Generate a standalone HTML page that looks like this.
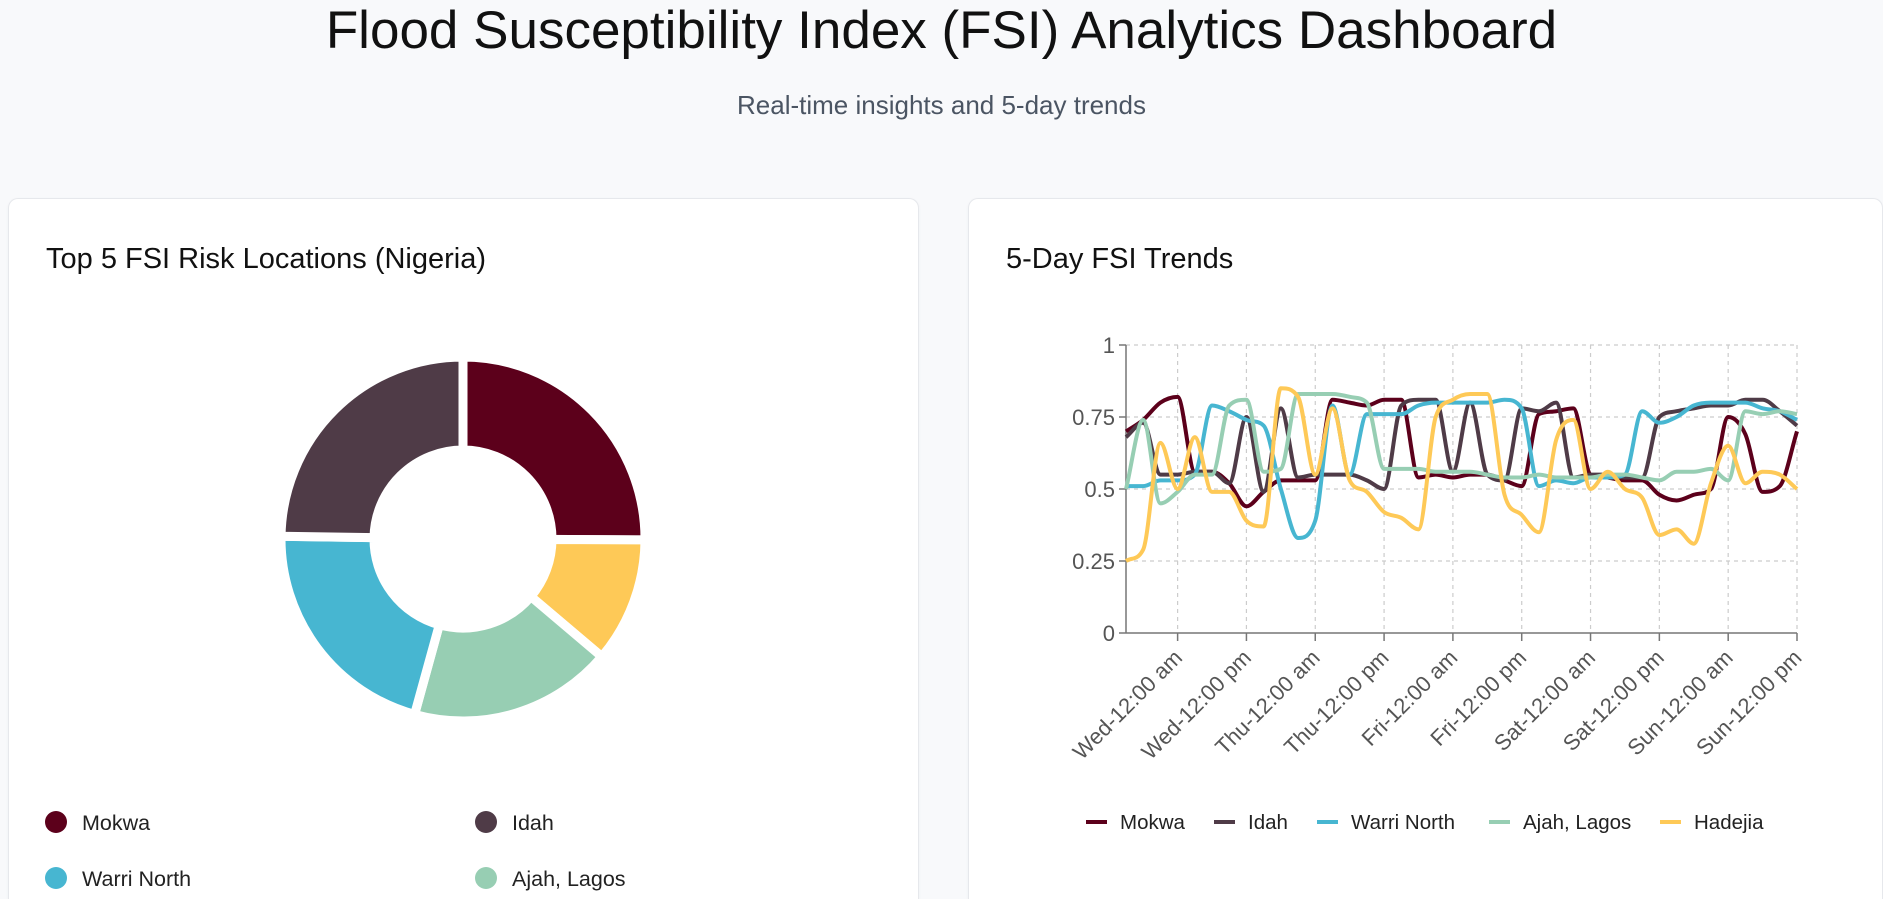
<!DOCTYPE html>
<html><head><meta charset="utf-8"><style>
html,body{margin:0;padding:0;width:1883px;height:898px;overflow:hidden;background:#f8f9fb;font-family:"Liberation Sans",sans-serif;}
.card{position:absolute;background:#fff;border:1px solid #e6e8ec;border-bottom:none;border-radius:10px 10px 0 0;box-shadow:0 1px 3px rgba(0,0,0,0.04);}
</style></head><body>
<div style="position:absolute;left:0;width:1883px;top:0;text-align:center;font-size:53px;line-height:62px;color:#111;">Flood Susceptibility Index (FSI) Analytics Dashboard</div>
<div style="position:absolute;left:0;width:1883px;top:90px;text-align:center;font-size:26px;color:#4b5563;">Real-time insights and 5-day trends</div>
<div class="card" style="left:8px;top:198px;width:909px;height:700px;"></div>
<div class="card" style="left:968px;top:198px;width:913px;height:700px;"></div>
<svg id="svg" width="1883" height="898" style="position:absolute;left:0;top:0;font-family:'Liberation Sans',sans-serif;">
<text x="46" y="268" font-size="29" fill="#111">Top 5 FSI Risk Locations (Nigeria)</text>
<text x="1006" y="268" font-size="29" fill="#111">5-Day FSI Trends</text>
<g id="donut"></g><g id="grid"></g><g id="axes"></g><g id="lines"></g><g id="legend"></g><g id="plegend"></g>
</svg>
<script>
const pieNames=["Mokwa","Hadejia","Ajah, Lagos","Warri North","Idah"];
const pieValues=[0.79,0.35,0.57,0.66,0.78];
const pieColors=["#5c001b","#fec957","#97ceb3","#47b6d1","#4f3b47"];
const legendNames=["Mokwa","Idah","Warri North","Ajah, Lagos"];
const legendColors=["#5c001b","#4f3b47","#47b6d1","#97ceb3"];
const seriesNames=["Mokwa","Idah","Warri North","Ajah, Lagos","Hadejia"];
const seriesColors=["#5c001b","#4f3b47","#47b6d1","#97ceb3","#fec957"];
const hours=[];for(let h=-9;h<=108;h+=3)hours.push(h);
const mokwa=[0.70,0.74,0.80,0.82,0.56,0.56,0.52,0.44,0.49,0.53,0.53,0.53,0.81,0.80,0.79,0.81,0.81,0.54,0.55,0.54,0.55,0.55,0.53,0.51,0.76,0.77,0.78,0.55,0.54,0.53,0.53,0.48,0.46,0.48,0.50,0.75,0.69,0.49,0.51,0.70];
const idah=[0.68,0.73,0.55,0.55,0.56,0.56,0.52,0.75,0.49,0.78,0.54,0.55,0.55,0.55,0.53,0.50,0.79,0.81,0.81,0.56,0.80,0.55,0.53,0.78,0.77,0.80,0.54,0.55,0.55,0.54,0.54,0.75,0.77,0.78,0.79,0.79,0.81,0.81,0.77,0.72];
const warri=[0.51,0.51,0.53,0.53,0.55,0.79,0.77,0.74,0.72,0.50,0.33,0.39,0.79,0.55,0.76,0.76,0.76,0.79,0.80,0.80,0.80,0.80,0.81,0.78,0.51,0.53,0.52,0.54,0.54,0.55,0.77,0.73,0.75,0.79,0.80,0.80,0.80,0.78,0.77,0.74];
const ajah=[0.50,0.74,0.45,0.49,0.55,0.55,0.79,0.81,0.56,0.57,0.83,0.83,0.83,0.82,0.80,0.57,0.57,0.57,0.56,0.56,0.56,0.55,0.54,0.54,0.55,0.54,0.54,0.54,0.55,0.55,0.54,0.53,0.56,0.56,0.57,0.53,0.77,0.76,0.77,0.76];
const hadejia=[0.25,0.29,0.66,0.50,0.68,0.49,0.49,0.39,0.37,0.85,0.82,0.55,0.78,0.53,0.49,0.42,0.40,0.36,0.75,0.81,0.83,0.83,0.48,0.41,0.35,0.67,0.74,0.50,0.56,0.50,0.47,0.34,0.36,0.31,0.52,0.65,0.52,0.56,0.55,0.50];
const yTicks=[0,0.25,0.5,0.75,1];
const yTickLabels=["0","0.25","0.5","0.75","1"];
const xTickHours=[0,12,24,36,48,60,72,84,96,108];
const xTickLabels=["Wed-12:00 am","Wed-12:00 pm","Thu-12:00 am","Thu-12:00 pm","Fri-12:00 am","Fri-12:00 pm","Sat-12:00 am","Sat-12:00 pm","Sun-12:00 am","Sun-12:00 pm"];
const NS="http://www.w3.org/2000/svg";
function mk(tag,attrs,parent){const e=document.createElementNS(NS,tag);for(const k in attrs)e.setAttribute(k,attrs[k]);parent.appendChild(e);return e;}
const cx=463,cy=539,R=182,r0=89;
const dg=document.getElementById('donut');
const total=pieValues.reduce((a,b)=>a+b,0);
let a0=0;
function pt(rad,ang){return [cx+rad*Math.sin(ang),cy-rad*Math.cos(ang)];}
pieValues.forEach((v,i)=>{
  const a1=a0+v/total*Math.PI*2;
  const p1=pt(R,a0),p2=pt(R,a1),p3=pt(r0,a1),p4=pt(r0,a0);
  const lg=(a1-a0)>Math.PI?1:0;
  const d=`M${p1}A${R},${R} 0 ${lg} 1 ${p2}L${p3}A${r0},${r0} 0 ${lg} 0 ${p4}Z`;
  const p=mk('path',{d:d,fill:pieColors[i],stroke:'#fff','stroke-width':9,'stroke-linejoin':'miter'},dg);
  
  
  a0=a1;
});
const lg=document.getElementById('legend');
legendNames.forEach((n,i)=>{
  const x=56+(i%2)*430,y=822+Math.floor(i/2)*56;
  const g=mk('g',{},lg);
  
  
  mk('circle',{cx:x,cy:y,r:11,fill:legendColors[i]},g);
  const t=mk('text',{x:x+26,y:y+8,'font-size':21.5,fill:'#222'},g);t.textContent=n;
});
const X0=1126,X1=1797,Y0=633,Y1=345,H0=-9,H1=108;
const xs=h=>X0+(h-H0)/(H1-H0)*(X1-X0);
const ys=v=>Y0-v*(Y0-Y1);
const gg=document.getElementById('grid'),ax=document.getElementById('axes');
yTicks.forEach((v,i)=>{
  if(v>0){const l=mk('line',{x1:X0,x2:X1,y1:ys(v),y2:ys(v),stroke:'#ccc','stroke-dasharray':'4,4','stroke-width':1.2},gg);
  }
  mk('line',{x1:X0-7,x2:X0,y1:ys(v),y2:ys(v),stroke:'#777','stroke-width':1.5},ax);
  const t=mk('text',{x:X0-11,y:ys(v)+8,'font-size':22,fill:'#555','text-anchor':'end'},ax);t.textContent=yTickLabels[i];
  
});
xTickHours.forEach((h,i)=>{
  const x=xs(h);
  const l=mk('line',{x1:x,x2:x,y1:Y1,y2:Y0,stroke:'#ccc','stroke-dasharray':'4,4','stroke-width':1.2},gg);
  
  mk('line',{x1:x,x2:x,y1:Y0,y2:Y0+8,stroke:'#777','stroke-width':1.5},ax);
  const t=mk('text',{transform:`translate(${x+6},${Y0+26}) rotate(-45)`,'font-size':22,fill:'#555','text-anchor':'end'},ax);t.textContent=xTickLabels[i];
  
});
const yAxis=mk('line',{x1:X0,x2:X0,y1:Y1,y2:Y0,stroke:'#777','stroke-width':1.5},ax);

const xAxis=mk('line',{x1:X0,x2:X1,y1:Y0,y2:Y0,stroke:'#777','stroke-width':1.5},ax);

function monotone(px,py){
  const n=px.length,dx=[],m=[],t=[];
  for(let i=0;i<n-1;i++){dx[i]=px[i+1]-px[i];m[i]=(py[i+1]-py[i])/dx[i];}
  t[0]=m[0];t[n-1]=m[n-2];
  for(let i=1;i<n-1;i++){if(m[i-1]*m[i]<=0)t[i]=0;else{const s=(m[i-1]*dx[i]+m[i]*dx[i-1])/(dx[i]+dx[i-1]);t[i]=Math.sign(m[i])*Math.min(Math.abs(s),3*Math.min(Math.abs(m[i-1]),Math.abs(m[i])));}}
  let d=`M${px[0]},${py[0]}`;
  for(let i=0;i<n-1;i++){const h=dx[i]/3;d+=`C${px[i]+h},${py[i]+t[i]*h} ${px[i+1]-h},${py[i+1]-t[i+1]*h} ${px[i+1]},${py[i+1]}`;}
  return d;
}
const lgEl=document.getElementById('lines');
[mokwa,idah,warri,ajah,hadejia].forEach((s,k)=>{
  const p=mk('path',{d:monotone(hours.map(xs),s.map(ys)),fill:'none',stroke:seriesColors[k],'stroke-width':4,'stroke-linejoin':'round'},lgEl);
  
  
});
const pl=document.getElementById('plegend');
const legX=[1086,1214,1317,1489,1660];
seriesNames.forEach((n,i)=>{
  const g=mk('g',{},pl);
  
  
  mk('line',{x1:legX[i],x2:legX[i]+21,y1:822,y2:822,stroke:seriesColors[i],'stroke-width':4},g);
  const t=mk('text',{x:legX[i]+34,y:829,'font-size':20.5,fill:'#222'},g);t.textContent=n;
});
</script>
</body></html>
